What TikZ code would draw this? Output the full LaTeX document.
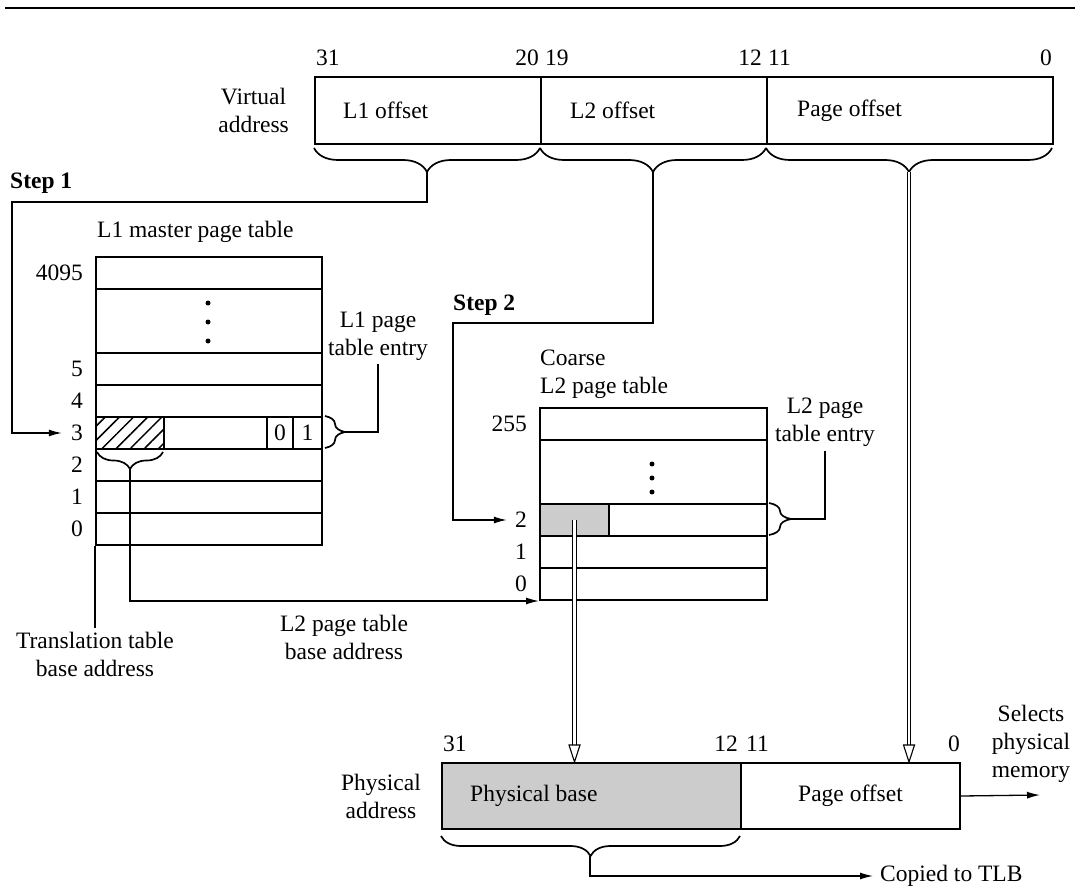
\documentclass[tikz,border=0pt]{standalone}
\usepackage{fontspec}
\setmainfont{Liberation Serif}
\usepackage{tikz}
\usetikzlibrary{arrows.meta,positioning,decorations.pathreplacing,patterns.meta}
\definecolor{basegray}{gray}{0.80}

\begin{document}
\begin{tikzpicture}[x=1pt, y=-1pt,
      font=\fontsize{23.5}{28}\selectfont,
      txt/.style={inner sep=0pt, align=center},
      field/.style={draw, line width=2pt, anchor=north west,
                    minimum height=67pt, inner sep=0pt},
      row/.style={draw, line width=2pt, anchor=north west,
                  minimum height=32pt, inner sep=0pt},
      conn/.style={line width=1.3pt},
      arr/.style={conn, -{Latex[length=13pt, width=7pt]}},
      brc/.style={line width=1.7pt, decorate,
                  decoration={brace, amplitude=#1}},
      dbl/.style={double, double distance=2.4pt, line width=1.1pt},
      dtip/.style={fill=white, line width=1.1pt, line join=miter},
      vdot/.style={circle, fill, inner sep=0pt, minimum size=5pt},
      stp/.style={txt, anchor=west, font=\fontsize{23.5}{28}\selectfont\bfseries}
  ]
    \useasboundingbox (0,0) rectangle (1075,890);
    \draw[line width=1.8pt] (5,8) -- (1075,8);

    % virtual address
    \node[field, minimum width=226pt] (l1off) at (314,76) {};
    \node[field, minimum width=226pt] (l2off) at (540,76) {};
    \node[field, minimum width=286pt] (pgoff) at (766,76) {};
    \node[txt, right=29pt of l1off.west] (l1offt) {L1 offset};
    \node[txt, right=30pt of l2off.west] (l2offt) {L2 offset};
    \node[txt, right=31pt of pgoff.west] (pgofft) {Page offset};
    \node[txt, left=25pt of l1off.west] (vaddr) {Virtual\\address};
    \node[txt, above right=10pt and 2pt of l1off.north west] (v31) {31};
    \node[txt, above left=10pt and 3pt of l1off.north east] (v20) {20};
    \node[txt, above right=10pt and 5pt of l2off.north west] (v19) {19};
    \node[txt, above left=10pt and 6pt of l2off.north east] (v12) {12};
    \node[txt, above right=10pt and 2pt of pgoff.north west] (v11) {11};
    \node[txt, above left=10pt and 2pt of pgoff.north east] (v0) {0};

    \draw[brc=24pt] (540,148) -- (314,148);
    \draw[brc=24pt] (766,148) -- (540,148);
    \draw[brc=24pt] (1052,148) -- (766,148);
    \coordinate (t1) at (427,172);
    \coordinate (t2) at (653,172);
    \coordinate (t3) at (909,172);

    % L1 master page table
    \node[stp] (step1) at (10,183) {Step 1};
    \node[txt, anchor=west] (l1name) at (97,232) {L1 master page table};
    \node[row, minimum width=226pt] (l1top) at (95,256) {};
    \node[row, minimum width=226pt, minimum height=64pt] (l1dots) at (95,288) {};
    \foreach \n/\y in {5/352,4/384,3/416,2/448,1/480,0/512}{
      \node[row, minimum width=226pt] (l1r\n) at (95,\y) {};
      \node[txt, left=12pt of l1r\n.west] (l1n\n) {\n};
    }
    \node[txt, left=12pt of l1top.west] (l1n4095) {4095};
    \foreach \y in {303,322,341}
      \node[vdot] (l1d\y) at (208,\y) {};
    \node[row, minimum width=68pt,
          pattern={Lines[angle=45, distance=10pt, line width=1.5pt]}] (l1base) at (95,416) {};
    \node[row, minimum width=26pt] (l1b0) at (266,416) {0};
    \node[row, minimum width=29pt] (l1b1) at (292,416) {1};
    \node[txt] (l1ent) at (378,336) {L1 page\\table entry};

    \draw[brc=20pt] (325,416) -- (325,448);
    \coordinate (t4) at (345,432);
    \draw[brc=17pt] (163,452) -- (97,452);
    \coordinate (t5) at (130,469);

    \draw[arr] (t1) |- (12,202) |- ([xshift=-9pt]l1n3.west);
    \draw[conn] (t4) -| ([yshift=-4pt]l1ent.south);

    % coarse L2 page table
    \node[stp] (step2) at (453,305) {Step 2};
    \node[txt, anchor=west, align=left] (l2name) at (540,374) {Coarse\\L2 page table};
    \node[row, minimum width=227pt] (l2top) at (539,407) {};
    \node[row, minimum width=227pt, minimum height=64pt] (l2dots) at (539,439) {};
    \foreach \n/\y in {2/503,1/535,0/567}{
      \node[row, minimum width=227pt] (l2r\n) at (539,\y) {};
      \node[txt, left=12pt of l2r\n.west] (l2n\n) {\n};
    }
    \node[txt, left=12pt of l2top.west] (l2n255) {255};
    \foreach \y in {464,478,492}
      \node[vdot] (l2d\y) at (652,\y) {};
    \node[row, minimum width=69pt, fill=basegray] (l2base) at (539,503) {};
    \node[txt] (l2ent) at (825,422) {L2 page\\table entry};

    \draw[brc=22pt] (769,503) -- (769,535);
    \coordinate (t6) at (791,519);

    \draw[arr] (t2) |- (453,323) |- ([xshift=-8pt]l2n2.west);
    \draw[conn] (t6) -| ([yshift=-4pt]l2ent.south);

    % base addresses
    \node[txt] (ttb) at (95,654) {Translation table\\base address};
    \node[txt] (l2tb) at (344,637) {L2 page table\\base address};
    \draw[conn] (l1r0.south west) -- ([yshift=4pt]ttb.north);
    \draw[arr] (t5) |- (l2r0.south west);

    % physical address
    \node[field, minimum width=299pt, minimum height=66pt, fill=basegray] (pbase) at (441,762) {};
    \node[field, minimum width=219pt, minimum height=66pt] (poff) at (740,762) {};
    \node[txt, right=29pt of pbase.west] (pbaset) {Physical base};
    \node[txt] (pofft) at (poff.center) {Page offset};
    \node[txt, left=20pt of pbase.west] (paddr) {Physical\\address};
    \node[txt, above right=10pt and 2pt of pbase.north west] (p31) {31};
    \node[txt, above left=10pt and 4pt of pbase.north east] (p12) {12};
    \node[txt, above right=10pt and 6pt of poff.north west] (p11) {11};
    \node[txt, above left=10pt and 1pt of poff.north east] (p0) {0};

    \coordinate (a1) at (l2base.center |- pbase.north);
    \coordinate (a2) at (t3 |- poff.north);
    \draw[dbl] (l2base.center) -- ([yshift=17pt]a1);
    \draw[dtip] ([shift={(-5.5pt,17pt)}]a1) -- ([shift={(5.5pt,17pt)}]a1) -- (a1) -- cycle;
    \draw[dbl] (t3) -- ([yshift=17pt]a2);
    \draw[dtip] ([shift={(-5.5pt,17pt)}]a2) -- ([shift={(5.5pt,17pt)}]a2) -- (a2) -- cycle;

    \node[txt] (selmem) at (1031,744) {Selects\\physical\\memory};
    \coordinate (mem) at (1040,795);
    \draw[arr] (poff.east) -- (mem);

    \draw[brc=20pt] (740,836) -- (441,836);
    \coordinate (t7) at (590,856);
    \node[txt, anchor=west] (tlb) at (880,876) {Copied to TLB};
    \draw[arr] (t7) |- ([xshift=-7pt]tlb.west);
\end{tikzpicture}
\end{document}
